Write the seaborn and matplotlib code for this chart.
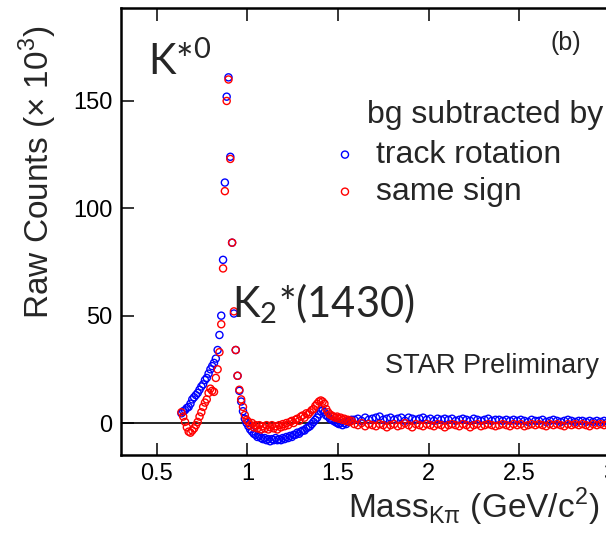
import numpy as np
import pandas as pd
import matplotlib
matplotlib.use("Agg")
import matplotlib.pyplot as plt
from matplotlib.ticker import FormatStrFormatter
import seaborn as sns

# bin centres, GeV/c^2
mass_low = np.round(np.arange(0.635, 1.0, 0.01), 3)    # K*0 region, 37 bins
mass_mid = np.round(np.arange(1.005, 1.58, 0.01), 3)   # K2*(1430) region, 58 bins
mass_tail = np.round(np.arange(1.59, 3.0, 0.02), 3)    # high mass tail, 71 bins

# raw counts (x 10^3), bg subtracted by track rotation
rot_low = [4.5, 5.5, 6, 7, 7.5, 9, 11, 12, 13, 14,
           15.5, 17, 18, 20, 21, 23, 25, 26.5, 28, 30,
           34, 41, 50, 76, 112, 152, 161, 124, 84, 51,
           34, 22, 15, 10, 5.5, 2, 0]
rot_mid = [-1.5, -3, -4, -5, -5.5, -6.5, -6, -7, -7.5, -7,
           -8, -7.5, -8.5, -7.5, -8, -7, -8, -7.5, -8, -7,
           -7.5, -6.5, -7, -6, -6.5, -5.5, -5.5, -4.5, -5, -4,
           -3.5, -3.5, -2.5, -2, -1.5, -0.5, 0.5, 1.5, 2.5, 4,
           5.5, 6, 5, 3.5, 3, 2, 1.5, 1, 0.5, 0,
           -0.5, 0, -1, 0, -0.5, 0.5, 1, 1.5]
rot_tail = [1.5, 2, 1, 2.5, 1.5, 2, 2.5, 3, 1.5, 2,
            2.5, 1.5, 2, 2.5, 1, 2.5, 2, 1.5, 2, 2.5,
            1.5, 2, 1, 2, 1.5, 2, 1.5, 2, 1, 1.5,
            2, 1.5, 1, 2, 1.5, 1, 1.5, 2, 1, 1.5,
            1.5, 1, 1.5, 1, 1.5, 1, 1.5, 1, 0.5, 1.5,
            1, 1, 1.5, 0.5, 1, 1.5, 1, 0.5, 1, 1.5,
            1, 0.5, 1, 1, 0.5, 1, 0.5, 1, 0.5, 1,
            0.5]

# raw counts (x 10^3), bg subtracted by same sign
ss_low = [5, 3, 0.5, -2, -4, -4.5, -3.5, -2.5, -1, 0.5,
          3, 5, 7.5, 9.5, 11, 14, 16, 15, 14.5, 21,
          25, 33, 46, 72, 108, 150, 160, 123, 84, 52,
          34, 22, 15.5, 11, 7.5, 3.7, 1.5]
ss_mid = [0.5, -1, 0, -2, -1, -2.5, -1, -3, -1.5, -2.5,
          -1, -3, -2, -1, -2.5, -1.5, -3, -1, -2, -0.5,
          -1.5, 0, -1, 0.5, 1, 0, 1.5, 2, 1, 3,
          3.5, 2.5, 4.5, 4, 5, 6, 6.5, 8, 9, 10,
          10.5, 10, 9, 6.5, 5, 4, 3.5, 3, 2.5, 3,
          2, 2.5, 1.5, 2, 1, 1.5, 0.5, 1]
ss_tail = [-0.5, -1, 0, -1.5, -0.5, -1, -1.5, -0.5, -1, -2,
           -1, -0.5, -1.5, -1, 0, -1, -2, -0.5, -1, -1.5,
           -0.5, -1, -1.5, -0.5, -1, -2, -1, -0.5, -1, -1.5,
           -0.5, -1, -2, -1, -0.5, -1.5, -1, -0.5, -1, -1.5,
           -1, -0.5, -1, -1.5, -0.5, -1, -0.5, -1.5, -1, -0.5,
           -1, -0.5, -1, -1.5, -0.5, -1, -0.5, -1, -1.5, -0.5,
           -1, -0.5, -1, -0.5, -1, -1.5, -0.5, -1, -0.5, -1,
           -0.5]

mass = np.concatenate([mass_low, mass_mid, mass_tail])
df_rot = pd.DataFrame({"mass": mass, "counts": rot_low + rot_mid + rot_tail})
df_ss = pd.DataFrame({"mass": mass, "counts": ss_low + ss_mid + ss_tail})

sns.set_style("ticks")
plt.rcParams["font.family"] = ["Liberation Sans", "DejaVu Sans"]
plt.rcParams["mathtext.fontset"] = "custom"
plt.rcParams["mathtext.rm"] = "Liberation Sans"

fig = plt.figure(figsize=(6.06, 5.48), dpi=100)
ax = fig.add_axes([0.1993, 0.1697, 0.8215, 0.8157])

ax.axhline(0, color="black", lw=1.2, zorder=0)

sns.scatterplot(data=df_rot, x="mass", y="counts", color="blue", facecolors="none",
                edgecolor="blue", s=26, linewidth=1.0, label="track rotation", ax=ax)
sns.scatterplot(data=df_ss, x="mass", y="counts", color="red", facecolors="none",
                edgecolor="red", s=26, linewidth=1.0, label="same sign", ax=ax)

ax.set_xlim(0.3, 3.05)
ax.set_ylim(-14.9, 193.3)
ax.set_xticks([0.5, 1, 1.5, 2, 2.5, 3])
ax.set_yticks([0, 50, 100, 150])
ax.xaxis.set_major_formatter(FormatStrFormatter("%g"))
ax.tick_params(direction="in", length=9, width=1.1, top=True, right=True,
               labelsize=17, pad=6, colors="black")
for sp in ax.spines.values():
    sp.set_linewidth(1.8)
    sp.set_color("black")

ax.set_xlabel(r"Mass$_\mathregular{Kπ}$ (GeV/c$^\mathregular{2}$)", fontsize=24,
              ha="left", va="center")
ax.xaxis.set_label_coords(0.4564, -0.117)
ax.set_ylabel(r"Raw Counts (× 10$^\mathregular{3}$)", fontsize=24, va="center")
ax.yaxis.set_label_coords(-0.166, 0.633)

leg = ax.legend(loc="upper left", bbox_to_anchor=(329 / 606, 1 - 140 / 548),
                bbox_transform=fig.transFigure, frameon=False, fontsize=23,
                handlelength=1.0, handletextpad=0.47, labelspacing=0.22,
                borderpad=0, borderaxespad=0)
ax.text(367 / 606, 1 - 123 / 548, "bg subtracted by", transform=fig.transFigure,
        fontsize=23, ha="left", va="baseline")

ax.text(385 / 606, 1 - 373 / 548, "STAR Preliminary", transform=fig.transFigure,
        fontsize=19.5, ha="left", va="baseline")
ax.text(550 / 606, 1 - 43 / 548, "(b)", transform=fig.transFigure,
        fontsize=18, ha="left", va="center")

ax.text(148 / 606, 1 - 75 / 548, r"K*$^\mathregular{0}$", transform=fig.transFigure,
        fontsize=30, family="Lato", ha="left", va="baseline")
ax.text(232 / 606, 1 - 317 / 548, r"K$_\mathregular{2}$*(1430)", transform=fig.transFigure,
        fontsize=30, family="Lato", ha="left", va="baseline")

fig.savefig("out.png", dpi=100)
